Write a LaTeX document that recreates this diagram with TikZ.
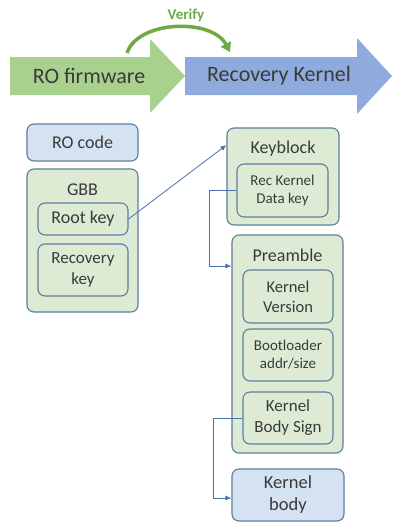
\documentclass[tikz,border=0pt]{standalone}
\usepackage{fontspec}
\setmainfont{Carlito}
\usetikzlibrary{shapes.arrows,arrows.meta}
\definecolor{txt}{HTML}{3A3A3A}
\definecolor{garrow}{HTML}{A9D18E}
\definecolor{barrow}{HTML}{8FAADC}
\definecolor{gfill}{HTML}{DEEBD4}
\definecolor{bfill}{HTML}{D5E2F1}
\definecolor{bord}{HTML}{5C7F9E}
\definecolor{vgreen}{HTML}{6DAA45}
\definecolor{link}{HTML}{4A72B0}
\tikzset{
  box/.style={draw=bord, line width=1.1pt, rounded corners=7pt, text=txt, align=center, inner sep=0pt},
  gbox/.style={box, fill=gfill},
  bbox/.style={box, fill=bfill},
  conn/.style={draw=link, line width=0.8pt, -{Latex[length=6pt,width=5pt]}},
  lbl/.style={text=txt, font=\fontsize{18}{20}\selectfont, inner sep=0pt}
}
\begin{document}
\begin{tikzpicture}[x=1pt,y=-1pt]
\useasboundingbox (0,0) rectangle (402,531);
\fill[white] (0,0) rectangle (402,531);
% big arrows
\fill[barrow] (185,57) -- (357,57) -- (357,38) -- (392,76) -- (357,114) -- (357,95) -- (185,95) -- cycle;
\fill[garrow] (10,57) -- (150,57) -- (150,39) -- (185,76) -- (150,113) -- (150,95) -- (10,95) -- cycle;
\node[text=txt, font=\fontsize{22}{24}\selectfont, inner sep=0pt] (rofw) at (89,76) {RO firmware};
\node[text=txt, font=\fontsize{22}{24}\selectfont, inner sep=0pt] (reck) at (279,76) {Recovery Kernel};
\coordinate (vs) at (127,53);
\coordinate (ve) at (230,52);
\draw[vgreen, line width=3.5pt, -{Triangle[length=9pt,width=11pt]}] (vs) .. controls (138,20) and (212,18) .. (ve);
\node[text=vgreen, font=\bfseries\fontsize{15}{17}\selectfont, inner sep=0pt] (verify) at (186,15) {Verify};
% left column
\node[bbox, minimum width=111pt, minimum height=37pt, font=\fontsize{18}{20}\selectfont] (rocode) at (82.5,142.5) {RO code};
\node[gbox, minimum width=111pt, minimum height=143pt] (gbb) at (82.5,240.5) {};
\node[lbl] (gbbl) at (82.5,190) {GBB};
\node[box, minimum width=90pt, minimum height=32pt, font=\fontsize{18}{20}\selectfont] (root) at (83,219) {Root key};
\node[box, minimum width=90pt, minimum height=52pt, font=\fontsize{17}{21}\selectfont] (recov) at (83,270) {Recovery\\key};
% keyblock
\node[gbox, minimum width=112pt, minimum height=97pt] (kb) at (283,176.5) {};
\node[lbl] (kbl) at (283,149) {Keyblock};
\node[box, minimum width=91pt, minimum height=53pt, font=\fontsize{15}{18}\selectfont] (rkdk) at (282.5,190.5) {Rec Kernel\\Data key};
% preamble
\node[gbox, minimum width=111pt, minimum height=218pt] (pre) at (287.5,344) {};
\node[lbl] (prel) at (287.5,255) {Preamble};
\node[box, minimum width=90pt, minimum height=53pt, font=\fontsize{16.5}{20}\selectfont] (kv) at (288,296.5) {Kernel\\Version};
\node[box, minimum width=90pt, minimum height=52pt, font=\fontsize{15}{18}\selectfont] (boot) at (288,355) {Bootloader\\addr/size};
\node[box, minimum width=90pt, minimum height=52pt, font=\fontsize{17}{21}\selectfont] (kbs) at (288,418) {Kernel\\Body Sign};
% kernel body
\node[bbox, minimum width=112pt, minimum height=52pt, font=\fontsize{18.5}{22}\selectfont] (kbody) at (288,495) {Kernel\\body};
% connectors
\draw[conn] (root.east) -- (kb.west |- 0,145);
\draw[conn] (rkdk.west) -- ++(-27,0) |- (pre.west |- 0,266);
\draw[conn] (kbs.west) -- ++(-29,0) |- (kbody.west |- 0,498);
\end{tikzpicture}
\end{document}
